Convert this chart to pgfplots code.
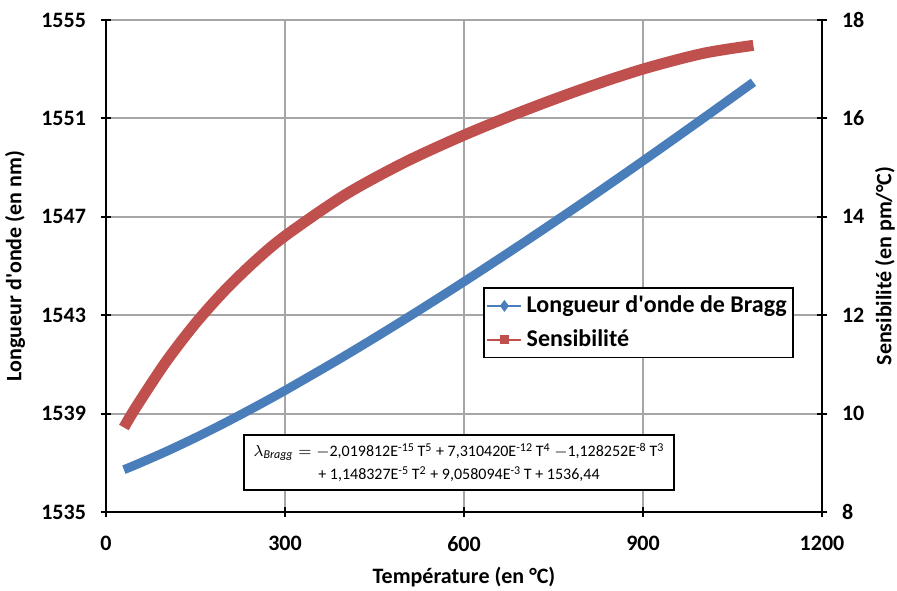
\documentclass[border=0pt]{standalone}
\usepackage{pgfplots}
\pgfplotsset{compat=1.18}
\usepackage{fontspec}
\setmainfont{Carlito}
\definecolor{cblue}{RGB}{74,126,187}
\definecolor{cred}{RGB}{192,80,77}
\begin{document}
\begin{tikzpicture}
\pgfplotsset{
  base/.style={
    scale only axis, width=358pt, height=246pt,
    xmin=0, xmax=1200,
    tick align=center, major tick length=5pt,
    every tick/.style={black, line width=1pt},
    axis line style={line width=1.2pt, black},
    tick label style={font=\fontsize{11}{13}\selectfont\bfseries},
    /pgf/number format/assume math mode=true,
  }
}
\begin{axis}[base,
  axis y line*=left, axis x line*=bottom,
  ymin=1535, ymax=1555, ytick={1535,1539,...,1555},
  xtick={0,300,...,1200},
  yticklabel style={xshift=-4pt},
  xticklabel style={yshift=-6pt},
  /pgf/number format/.cd, set thousands separator={}, /pgfplots/.cd,
  grid=major, major grid style={gray!70, line width=1pt},
  xlabel={Température (en °C)},
  ylabel={Longueur d\textquotesingle onde (en nm)},
  every axis y label/.style={at={(axis description cs:-0.127,0.5)}, anchor=center, rotate=90, font=\fontsize{11}{13}\selectfont\bfseries},
  every axis x label/.style={at={(axis description cs:0.5,-0.132)}, anchor=center, font=\fontsize{11}{13}\selectfont\bfseries},
]
\addplot[cblue, line width=4.5pt, smooth] coordinates {
(30,1536.7218) (50,1536.9202) (100,1537.4501) (150,1538.0226) (200,1538.6317)
(250,1539.2725) (300,1539.9406) (400,1541.3449) (500,1542.8233) (600,1544.3622)
(700,1545.9533) (800,1547.5916) (900,1549.2725) (1000,1550.9895) (1085,1552.469)
};
\node[draw=black, line width=1pt, fill=white, align=center, inner xsep=5pt, inner ysep=4pt,
  font=\fontsize{8}{11.5}\selectfont] at (axis description cs:0.493,0.101)
{$\lambda_{\mathit{Bragg}} = {}$$-$2,019812E\textsuperscript{-15}\,T\textsuperscript{5} + 7,310420E\textsuperscript{-12}\,T\textsuperscript{4} $-$1,128252E\textsuperscript{-8}\,T\textsuperscript{3}\\
+ 1,148327E\textsuperscript{-5}\,T\textsuperscript{2} + 9,058094E\textsuperscript{-3}\,T + 1536,44};
\end{axis}
\begin{axis}[base,
  axis y line*=right, axis x line=none,
  ymin=8, ymax=18, ytick={8,10,...,18},
  yticklabel style={xshift=4pt},
  ylabel={Sensibilité (en pm/°C)},
  every axis y label/.style={at={(axis description cs:1.088,0.5)}, anchor=center, rotate=90, font=\fontsize{11}{13}\selectfont\bfseries},
  legend style={at={(axis description cs:0.527,0.457)}, anchor=north west,
    draw=black, line width=0.8pt, font=\fontsize{12}{14}\selectfont\bfseries,
    inner xsep=1pt, inner ysep=2pt, row sep=3pt},
  legend cell align=left,
]
\addlegendimage{cblue, line width=1.2pt, mark=diamond*, mark size=2pt, mark options={solid}}
\addlegendentry{Longueur d\textquotesingle onde de Bragg}
\addplot[cred, line width=5.5pt, smooth, forget plot] coordinates {
(30,9.7174) (50,10.1254) (100,11.0445) (150,11.8351) (200,12.5153)
(250,13.1017) (300,13.6095) (400,14.4420) (500,15.1035) (600,15.6603)
(700,16.1545) (800,16.6037) (900,17.0026) (1000,17.3197) (1085,17.485)
};
\addlegendimage{cred, line width=1.2pt, mark=square*, mark size=1.6pt, mark options={solid}}
\addlegendentry{Sensibilité}
\end{axis}
\pgfresetboundingbox
\path[use as bounding box] (-53pt,-39pt) rectangle (395.5pt,256pt);
\end{tikzpicture}
\end{document}
